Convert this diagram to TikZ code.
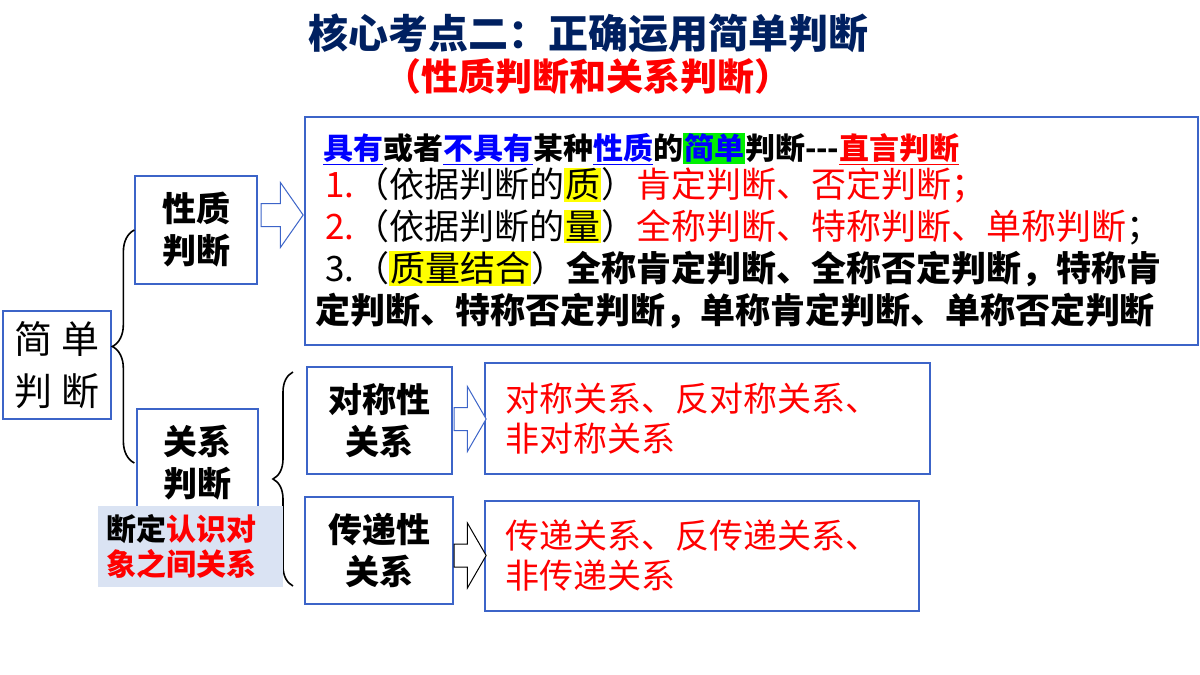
\documentclass[tikz,border=0pt]{standalone}
\usepackage{fontspec}
\setmainfont{Noto Sans CJK SC}
\usepackage{tikz}
\usetikzlibrary{positioning,shapes.arrows,decorations.pathreplacing}
\definecolor{boxblue}{RGB}{60,100,200}
\definecolor{titlenavy}{RGB}{0,32,96}
\definecolor{hired}{RGB}{255,0,0}
\definecolor{hiblue}{RGB}{0,0,255}
\definecolor{higreen}{RGB}{0,240,0}
\definecolor{hiyellow}{RGB}{255,255,0}
\definecolor{notefill}{RGB}{218,227,243}
\newcommand{\hlbox}[2]{{\setlength{\fboxsep}{1pt}\colorbox{#1}{#2}}}
\tikzset{
    %Define style for boxes
    kbox/.style={
           rectangle,
           draw=boxblue, line width=1.3pt,
           inner sep=0pt,
           font=\bfseries\fontsize{34}{42}\selectfont,
           align=center},
    redbox/.style={
           rectangle,
           draw=boxblue, line width=1.3pt,
           inner sep=0pt,
           font=\fontsize{34}{40}\selectfont,
           text=hired,
           align=left},
    notebox/.style={
           rectangle,
           fill=notefill,
           inner sep=0pt,
           font=\bfseries\fontsize{30}{35}\selectfont,
           align=left},
    titletext/.style={
           font=\bfseries\fontsize{40}{44}\selectfont,
           inner sep=0pt},
    % Define arrow style
    hollow/.style={
           single arrow,
           draw=boxblue, line width=1pt,
           fill=white,
           inner sep=0pt,
           text width=0pt,
           text height=11pt,
           text depth=11pt,
           single arrow tip angle=110,
           single arrow head extend=21pt,
           anchor=tail},
    kbrace/.style={
           decorate,
           decoration={brace, amplitude=#1},
           line width=1.6pt, black},
    kbrace/.default=22pt
}
\begin{document}
\begin{tikzpicture}[x=1pt,y=-1pt]
\useasboundingbox (0,0) rectangle (1200,675);
\node[titletext, text=titlenavy] (t1) at (588,33) {核心考点二：正确运用简单判断};
\node[titletext, text=hired, font=\bfseries\fontsize{37}{40}\selectfont] (t2) at (588,76) {（性质判断和关系判断）};
\node[kbox, minimum width=108pt, minimum height=108pt, font=\fontsize{38}{52}\selectfont] (jd) at (57,365) {简 单\\判 断};
\node[kbox, minimum width=122pt, minimum height=108pt] (xz) at (196,230) {性质\\判断};
\node[kbox, minimum width=121pt, minimum height=108pt] (gx) at (197.5,463) {关系\\判断};
\node[kbox, minimum width=145pt, minimum height=107pt] (dc) at (379.5,420.5) {对称性\\关系};
\node[kbox, minimum width=148pt, minimum height=107pt] (cd) at (379,550.5) {传递性\\关系};
\node[redbox, minimum width=445pt, minimum height=111pt, text width=405pt] (dcr) at (707.5,418.5) {对称关系、反对称关系、\\非对称关系};
\node[redbox, minimum width=434pt, minimum height=110pt, text width=394pt] (cdr) at (702,556) {传递关系、反传递关系、\\非传递关系};
\node[redbox, text=black, minimum width=893pt, minimum height=228pt, text width=873pt, font=\fontsize{35}{42}\selectfont] (big) at (751.5,231) {%
\hspace{8pt}{\fontsize{30}{36}\selectfont\bfseries\textcolor{hiblue}{\underline{具有}}或者\textcolor{hiblue}{\underline{不具有}}某种\textcolor{hiblue}{\underline{性质}}的\hlbox{higreen}{\textcolor{hiblue}{简单}}判断-{}-{}-\textcolor{hired}{\underline{直言判断}}}\\[-4pt]
\hspace{10pt}\textcolor{hired}{1.}（依据判断的\hlbox{hiyellow}{质}）\textcolor{hired}{肯定判断、否定判断；}\\
\hspace{10pt}\textcolor{hired}{2.}（依据判断的\hlbox{hiyellow}{量}）\textcolor{hired}{全称判断、特称判断、单称判断}；\\
\hspace{10pt}3.（\hlbox{hiyellow}{质量结合}）\textbf{全称肯定判断、全称否定判断，特称肯}\\
\textbf{定判断、特称否定判断，单称肯定判断、单称否定判断}};
% braces
\draw[kbrace] (xz.west |- gx.west) -- (xz.west);
\coordinate (b2t) at (293,372);
\coordinate (b2b) at (293,586);
\draw[kbrace=20pt] (b2b) -- (b2t);
\node[notebox, minimum width=185pt, minimum height=81pt, text width=168pt] (dd) at (190.5,546.5) {断定\textcolor{hired}{认识对}\\\textcolor{hired}{象之间关系}};
% block arrows
\node[hollow, minimum height=42pt] (a1) at ([xshift=3pt,yshift=15pt]xz.east) {};
\node[hollow, minimum height=32pt, single arrow tip angle=120] (a2) at ([xshift=1pt,yshift=1.5pt]dc.east) {};
\node[hollow, draw=black, minimum height=32pt, single arrow tip angle=120] (a3) at ([xshift=0pt,yshift=-5pt]cd.east) {};
\end{tikzpicture}
\end{document}
